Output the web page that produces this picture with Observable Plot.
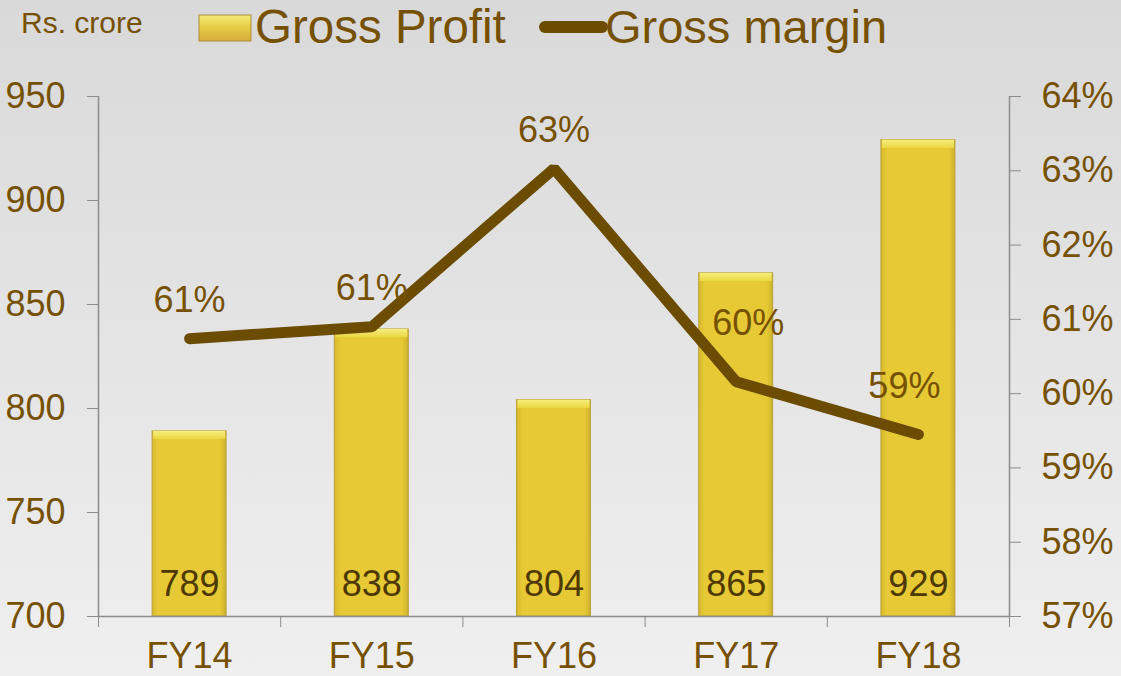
<!DOCTYPE html>
<html>
<head>
<meta charset="utf-8">
<script src="https://cdn.jsdelivr.net/npm/d3@7"></script>
<script src="https://cdn.jsdelivr.net/npm/@observablehq/plot@0.6"></script>
<style>
  html, body { margin: 0; padding: 0; }
  body { width: 1121px; height: 676px; overflow: hidden;
         background: linear-gradient(to bottom, #d9d9d9 0%, #e4e4e4 50%, #efefef 100%);
         font-family: "Liberation Sans", Arial, sans-serif; }
  #wrap { position: relative; width: 1121px; height: 676px; }
  #legend { position: absolute; left: 0; top: 0; }
  #chart { position: absolute; left: 0; top: 0; }
</style>
</head>
<body>
<div id="wrap">
  <div id="chart"></div>
  <svg id="legend" width="1121" height="60"></svg>
</div>
<script>
const categories = ["FY14", "FY15", "FY16", "FY17", "FY18"];
const grossProfit = [789, 838, 804, 865, 929];
const grossMargin = [60.74, 60.90, 63.03, 60.16, 59.45];
const marginLabels = ["61%", "61%", "63%", "60%", "59%"];
const leftTicks = [700, 750, 800, 850, 900, 950];
const rightTicks = [57, 58, 59, 60, 61, 62, 63, 64];

const TEXT = "#765200";
const DARK = "#4e3900";
const LINE = "#6b4c00";
const AXIS = "#8c8c8c";

// map margin (%) onto the left (Rs. crore) scale
const yMin = 700, yMax = 950, mMin = 57, mMax = 64;
const toY = m => yMin + (m - mMin) * (yMax - yMin) / (mMax - mMin);
const toM = v => mMin + (v - yMin) * (mMax - mMin) / (yMax - yMin);

const rows = categories.map((c, i) => ({
  cat: c, i, gp: grossProfit[i], gm: grossMargin[i], gml: marginLabels[i]
}));

const half = 0.203; // half bar width in band units
const FONT = 36;

const chart = Plot.plot({
  width: 1121,
  height: 676,
  marginTop: 96,
  marginBottom: 60,
  marginLeft: 98,
  marginRight: 112,
  style: { background: "transparent", fontFamily: "Liberation Sans, Arial, sans-serif", overflow: "visible" },
  x: { domain: [0, 5], axis: null, label: null },
  y: { domain: [yMin, yMax], axis: null, label: null },
  marks: [
    // bars
    Plot.rectY(rows, {
      x1: d => d.i + 0.5 - half, x2: d => d.i + 0.5 + half,
      y1: yMin, y2: "gp",
      fill: "url(#goldH)", stroke: "#b9a03a", strokeWidth: 1
    }),
    // bevel highlight at top of each bar
    Plot.rectY(rows, {
      x1: d => d.i + 0.5 - half, x2: d => d.i + 0.5 + half,
      y1: d => d.gp - 4, y2: "gp",
      fill: "url(#goldTop)", insetLeft: 1, insetRight: 1
    }),
    // axes lines
    Plot.ruleY([yMin], { stroke: AXIS, strokeWidth: 1.5 }),
    Plot.ruleX([0], { stroke: AXIS, strokeWidth: 1.5 }),
    Plot.ruleX([5], { stroke: AXIS, strokeWidth: 1.5 }),
    // left axis
    Plot.axisY({ anchor: "left", label: null, ticks: leftTicks, tickSize: 11, tickPadding: 22,
      stroke: AXIS, fill: TEXT, fontSize: FONT, tickFormat: d => d }),
    // right axis
    Plot.axisY({ anchor: "right", label: null, ticks: rightTicks.map(toY), tickSize: 11, tickPadding: 21,
      stroke: AXIS, fill: TEXT, fontSize: FONT, textAnchor: "start",
      tickFormat: v => Math.round(toM(v)) + "%" }),
    // x axis boundary ticks
    Plot.axisX({ anchor: "bottom", label: null, ticks: d3.range(0, 6), tickSize: 11, stroke: AXIS,
      tickFormat: () => "" }),
    // x axis category labels
    Plot.axisX({ anchor: "bottom", label: null, ticks: categories.map((c, i) => i + 0.5), tickSize: 0,
      tickPadding: 26, fill: TEXT, fontSize: FONT,
      tickFormat: v => categories[Math.round(v - 0.5)] }),
    // bar value labels
    Plot.text(rows, { x: d => d.i + 0.5, y: yMin, text: d => String(d.gp), dy: -32,
      fill: DARK, fontSize: FONT }),
    // margin line
    Plot.line(rows, { x: d => d.i + 0.5, y: d => toY(d.gm), stroke: LINE, strokeWidth: 11,
      strokeLinecap: "round", strokeLinejoin: "miter" }),
    // margin labels
    Plot.text(rows.filter(d => d.i < 3), { x: d => d.i + 0.5, y: d => toY(d.gm), text: "gml",
      dy: -38, fill: TEXT, fontSize: FONT }),
    Plot.text(rows.filter(d => d.i === 3), { x: d => d.i + 0.5, y: d => toY(d.gm), text: "gml",
      dx: 12, dy: -58, fill: TEXT, fontSize: FONT }),
    Plot.text(rows.filter(d => d.i === 4), { x: d => d.i + 0.5, y: d => toY(d.gm), text: "gml",
      dx: -14, dy: -48, fill: TEXT, fontSize: FONT })
  ]
});

// gradient defs for the gold bars
const ns = "http://www.w3.org/2000/svg";
const defs = document.createElementNS(ns, "defs");
defs.innerHTML = `
  <linearGradient id="goldH" x1="0" y1="0" x2="1" y2="0">
    <stop offset="0" stop-color="#d9b92c"/>
    <stop offset="0.08" stop-color="#e6c935"/>
    <stop offset="0.92" stop-color="#e6c935"/>
    <stop offset="1" stop-color="#cdb02c"/>
  </linearGradient>
  <linearGradient id="goldTop" x1="0" y1="0" x2="0" y2="1">
    <stop offset="0" stop-color="#f6ef80"/>
    <stop offset="1" stop-color="#ead63f"/>
  </linearGradient>`;
chart.insertBefore(defs, chart.firstChild);
document.getElementById("chart").appendChild(chart);

// legend / header
const leg = document.getElementById("legend");
leg.innerHTML = `
  <defs>
    <linearGradient id="goldLeg2" x1="0" y1="0" x2="0" y2="1">
      <stop offset="0" stop-color="#f4ea7a"/>
      <stop offset="0.45" stop-color="#e7cd44"/>
      <stop offset="1" stop-color="#d6ad3c"/>
    </linearGradient>
  </defs>
  <text x="21" y="33" font-size="30" fill="${TEXT}" font-family="Liberation Sans, Arial, sans-serif">Rs. crore</text>
  <rect x="199" y="15" width="52" height="26" fill="url(#goldLeg2)" stroke="#a98f3c" stroke-width="1"/>
  <text x="255" y="43" font-size="47.5" fill="${TEXT}" font-family="Liberation Sans, Arial, sans-serif">Gross Profit</text>
  <line x1="545" y1="27" x2="602" y2="27" stroke="${LINE}" stroke-width="12" stroke-linecap="round"/>
  <text x="605" y="43" font-size="47" fill="${TEXT}" font-family="Liberation Sans, Arial, sans-serif">Gross margin</text>`;
</script>
</body>
</html>
